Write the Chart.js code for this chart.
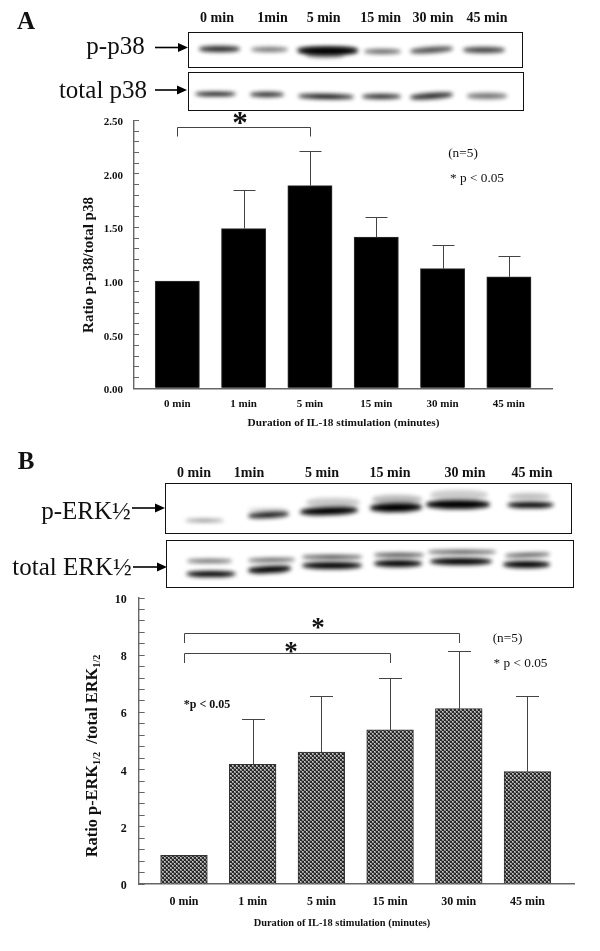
<!DOCTYPE html>
<html><head><meta charset="utf-8">
<script src="https://cdn.jsdelivr.net/npm/chart.js@4"></script>
<style>
html,body{margin:0;padding:0;background:#fff;overflow:hidden}
#page{position:relative;width:600px;height:951px;font-family:"Liberation Serif",serif;color:#111}
canvas{position:absolute;left:0}
.t{position:absolute;white-space:nowrap;transform:translate(-50%,-50%);line-height:1}
.b{font-weight:bold}
.v{transform:translate(-50%,-50%) rotate(-90deg)}
.v sub{font-size:.62em;vertical-align:baseline;position:relative;top:.25em}
.frame{position:absolute;box-sizing:border-box;border:1.5px solid #111;background:#fff;overflow:hidden}
.band{position:absolute;background:#000;border-radius:45%}
svg{position:absolute;left:0;top:0}
</style></head><body><div id="page">
<canvas id="chartA" width="600" height="335" style="top:100px;width:600px;height:335px"></canvas>
<canvas id="chartB" width="600" height="355" style="top:585px;width:600px;height:355px"></canvas>
<svg id="arrows" width="600" height="951"></svg>
</div>
<script>
// ---- data ----
const categoriesA = ['0 min','1 min','5 min','15 min','30 min','45 min'];
const valuesA     = [1.00, 1.49, 1.89, 1.41, 1.116, 1.04];
const errorTopA   = [null, 1.85, 2.21, 1.595, 1.334, 1.238];
const bracketsA   = [{from:0, to:2, y:2.435}];

const categoriesB = ['0 min','1 min','5 min','15 min','30 min','45 min'];
const valuesB     = [1.00, 4.18, 4.61, 5.39, 6.13, 3.93];
const errorTopB   = [null, 5.76, 6.57, 7.22, 8.16, 6.57];
const bracketsB   = [{from:0, to:4, y:8.76},{from:0, to:3, y:8.09}];

const lanesA = ['0 min','1min','5 min','15 min','30 min','45 min'];
const lanesB = ['0 min','1min','5 min','15 min','30 min','45 min'];

// ---- page furniture (not data) ----
const page = document.getElementById('page');
function text(html,x,y,size,cls){
  const d=document.createElement('div');
  d.className='t '+(cls||'');d.innerHTML=html;
  d.style.left=x+'px';d.style.top=y+'px';d.style.fontSize=size+'px';
  page.appendChild(d);return d;
}
function frame(x0,y0,x1,y1,bands,yOff){
  const f=document.createElement('div');f.className='frame';
  f.style.cssText=`left:${x0}px;top:${y0}px;width:${x1-x0}px;height:${y1-y0}px`;
  bands.forEach(([a,b,yc,h,o,r])=>{
    const s=document.createElement('div');s.className='band';
    const l=a/2.58-x0-1.5, w=(b-a)/2.58, t=yc/3+yOff-y0-1.5-h/2;
    s.style.cssText=`left:${l}px;top:${t}px;width:${w}px;height:${h}px;opacity:${o};transform:rotate(${r||0}deg);filter:blur(2.2px)`;
    f.appendChild(s);
  });
  page.appendChild(f);
}
const svg=document.getElementById('arrows');
function arrow(x0,x1,y){
  svg.innerHTML+=`<line x1="${x0}" y1="${y}" x2="${x1-8}" y2="${y}" stroke="#000" stroke-width="1.6"/><polygon points="${x1},${y} ${x1-10},${y-4.5} ${x1-10},${y+4.5}" fill="#000"/>`;
}
// Panel A furniture
text('A',26,20,25,'b');
[217,272.5,323.6,380.6,433,487].forEach((x,i)=>text(lanesA[i],x,18,14,'b'));
frame(188,32,523,68,[
 [515,620,147,6,.85],[650,745,150,5,.55],[770,925,154,8,1],[790,890,167,6,.4],[765,925,150,5,.6],
 [940,1035,155,5,.6],[1060,1170,151,6,.7,-4],[1195,1305,150,6,.75]],0);
frame(188,72,524,111,[
 [505,610,283,4.5,1],[645,735,285,5,.85],[770,915,292,5,.95,1],[935,1035,292,5,.85],[1060,1170,289,6,.85,-4],[1205,1310,289,5.5,.55]],0);
text('p-p38',115.5,45,25);text('total p38',103,89,25);
arrow(155,188,47.5);arrow(155,187,90);
text('Ratio p-p38/total p38',88,264.5,15,'b v');
text('Duration of IL-18 stimulation (minutes)',343.5,423,11.3,'b');
text('(n=5)',463,153,13.3);text('* p &lt; 0.05',477,178,13.3);
text('*',240,122,31,'b');
// Panel B furniture
text('B',26,460,25,'b');
[194,249,322,390,465,532].forEach((x,i)=>text(lanesB[i],x,473,14,'b'));
frame(165,483,572,534,[
 [478,580,243,3.5,.5],[640,745,227,6,.9,-3],[640,745,212,4.5,.18],[775,925,215,8,1,-2],[790,930,188,9,.22],
 [955,1090,203,9,1,-1],[960,1090,180,9,.28],[1100,1265,194,9,1],[1110,1260,165,10,.2],[1310,1430,197,6.5,1],[1315,1420,172,7,.25]],440);
frame(166,540,574,588,[
 [480,610,403,6.5,1],[485,600,365,4,.6],[640,750,390,6.5,1,-3],[640,760,360,4,.65,-1],
 [780,935,378,7,1],[780,935,351,4,.75],[965,1090,373,7,1],[965,1095,347,4,.75],[1110,1270,367,7,1],[1105,1280,337,4,.7],[1300,1420,376,7,1],[1305,1420,345,4,.7,-2]],440);
text('p-ERK½',86,510,25);text('total ERK½',72,566,25);
arrow(132,165,508);arrow(133,167,567);
text('Ratio p-ERK<sub>1/2</sub>&nbsp; /total ERK<sub>1/2</sub>',91.5,755.5,16.4,'b v');
text('Duration of IL-18 stimulation (minutes)',342,923,10.4,'b');
text('*p &lt; 0.05',207,704,12,'b');
text('(n=5)',507.5,638,13.3);text('* p &lt; 0.05',520.5,663,13.3);
text('*',318,627,27,'b');text('*',291,651,27,'b');

// ---- chart helpers ----
const overlay={
  id:'overlay',
  afterDatasetsDraw(chart,args,o){
    const {ctx,scales:{x,y}}=chart;
    ctx.save();ctx.strokeStyle='#444';ctx.lineWidth=1;
    o.tops.forEach((v,i)=>{
      if(v==null)return;
      const px=Math.round(x.getPixelForValue(i))+.5,
            py=Math.round(y.getPixelForValue(v))+.5,
            base=y.getPixelForValue(o.values[i]);
      ctx.beginPath();ctx.moveTo(px,base);ctx.lineTo(px,py);
      ctx.moveTo(px-o.cap,py);ctx.lineTo(px+o.cap,py);ctx.stroke();
    });
    o.brackets.forEach(b=>{
      const xa=Math.round(x.getPixelForValue(b.from))+.5,
            xb=Math.round(x.getPixelForValue(b.to))+.5,
            py=Math.round(y.getPixelForValue(b.y))+.5;
      ctx.beginPath();ctx.moveTo(xa,py+o.leg);ctx.lineTo(xa,py);ctx.lineTo(xb,py);ctx.lineTo(xb,py+o.leg);ctx.stroke();
    });
    ctx.restore();
  }
};
function dither(){
  const c=document.createElement('canvas');c.width=c.height=4;
  const g=c.getContext('2d');
  g.fillStyle='#2a2a2a';g.fillRect(0,0,4,4);
  g.fillStyle='#8c8c8c';g.fillRect(0,0,2,2);g.fillRect(2,2,2,2);
  g.fillStyle='#d0d0d0';g.fillRect(0,0,1,1);g.fillRect(2,2,1,1);
  return g.createPattern(c,'repeat');
}
function make(id,cats,vals,tops,brs,cfg){
  return new Chart(document.getElementById(id),{
    type:'bar',
    data:{datasets:[{data:vals.map((v,i)=>({x:i,y:v})),backgroundColor:cfg.fill,borderColor:cfg.edge,borderWidth:1,barThickness:cfg.bar}]},
    plugins:[overlay],
    options:{
      responsive:false,animation:false,
      layout:{padding:{left:0,top:cfg.padTop,right:cfg.padRight,bottom:0}},
      plugins:{legend:{display:false},tooltip:{enabled:false},
        overlay:{tops,values:vals,brackets:brs,cap:cfg.cap,leg:cfg.leg}},
      scales:{
        x:{type:'linear',offset:false,min:cfg.xMin,max:cfg.xMax,
          afterFit:s=>{s.height=cfg.bottomH;s.paddingLeft=0;s.paddingRight=0},
          afterBuildTicks:s=>{s.ticks=cats.map((_,i)=>({value:i}))},
          grid:{display:false,drawTicks:false},
          border:{color:'#666',width:1.4},
          ticks:{callback:v=>cats[v],autoSkip:false,maxRotation:0,padding:cfg.xPad,color:'#111',
            font:{family:'Liberation Serif',size:cfg.fs,weight:'bold'}}},
        y:{min:0,max:cfg.yMax,
          afterFit:s=>{s.width=cfg.leftW;s.paddingTop=0;s.paddingBottom=0},
          grid:{drawOnChartArea:false,tickLength:-cfg.tick,tickColor:'#666',tickWidth:1},
          border:{color:'#666',width:1.4},
          ticks:{stepSize:cfg.step,autoSkip:false,padding:cfg.yPad,color:'#111',
            callback:cfg.label,font:{family:'Liberation Serif',size:cfg.fs,weight:'bold',lineHeight:'4px'}}}
      }
    }
  });
}
make('chartA',categoriesA,valuesA,errorTopA,bracketsA,{
  fill:'#000',edge:'#333',bar:44.3,padTop:20.3,padRight:48,bottomH:46.7,leftW:134,
  xMin:-0.653,xMax:5.65,yMax:2.5,step:0.1,fs:11,tick:5,xPad:9,yPad:16,cap:11,leg:9,
  label:v=>Math.round(v*10)%5===0?['',v.toFixed(2)]:''});
make('chartB',categoriesB,valuesB,errorTopB,bracketsB,{
  fill:dither(),edge:'#333',bar:46.7,padTop:13,padRight:26,bottomH:56,leftW:138.7,
  xMin:-0.659,xMax:5.677,yMax:10,step:0.4,fs:12,tick:6,xPad:11,yPad:18,cap:11.5,leg:9.5,
  label:v=>Math.round(v*10)%20===0?['',String(Math.round(v))]:''});
</script></body></html>
